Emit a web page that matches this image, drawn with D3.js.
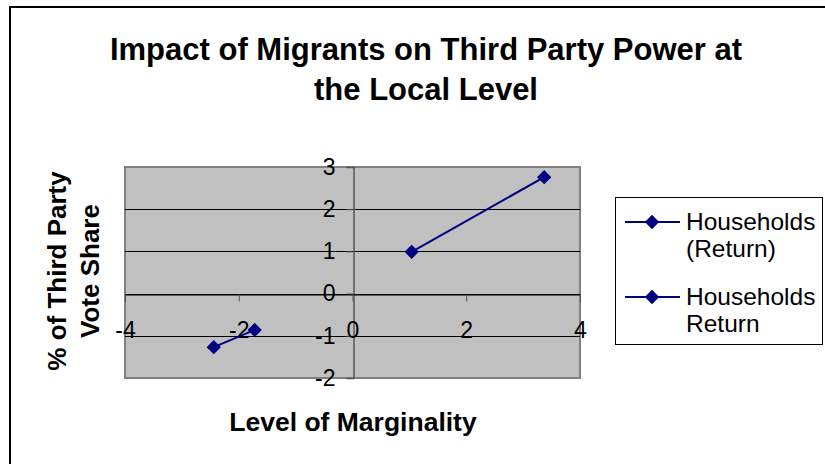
<!DOCTYPE html>
<html>
<head>
<meta charset="utf-8">
<script src="https://cdn.jsdelivr.net/npm/d3@7"></script>
<style>
  body { margin: 0; background: #fff; }
  svg { display: block; font-family: "Liberation Sans", Arial, sans-serif; }
</style>
</head>
<body>
<div id="chart"></div>
<script>
// data
let seriesNames = ["Households (Return)", "Households Return"];
let seriesA = [{x: -2.44, y: -1.27}, {x: -1.72, y: -0.86}];
let seriesB = [{x: 1.04, y: 0.99}, {x: 3.37, y: 2.76}];
let xTicks = [-4, -2, 0, 2, 4];
let yTicks = [-2, -1, 0, 1, 2, 3];
let titleLines = ["Impact of Migrants on Third Party Power at", "the Local Level"];
let yTitleLines = ["% of Third Party", "Vote Share"];
let xTitle = "Level of Marginality";

let width = 825, height = 464;
let plot = {left: 125, right: 580, top: 167, bottom: 378};
let navy = "#000080";

const svg = d3.select("#chart").append("svg")
    .attr("width", width)
    .attr("height", height);

// outer chart border
svg.append("rect")
    .attr("x", 10).attr("y", 7)
    .attr("width", 830).attr("height", 470)
    .attr("fill", "#fff")
    .attr("stroke", "#000")
    .attr("stroke-width", 2);

let x = d3.scaleLinear().domain([-4, 4]).range([plot.left, plot.right]);
let y = d3.scaleLinear().domain([-2, 3]).range([plot.bottom, plot.top]);

// plot area
svg.append("rect")
    .attr("x", plot.left).attr("y", plot.top)
    .attr("width", plot.right - plot.left)
    .attr("height", plot.bottom - plot.top)
    .attr("fill", "#c0c0c0")
    .attr("stroke", "#808080")
    .attr("stroke-width", 2);

// horizontal gridlines
svg.append("g")
  .selectAll("line")
  .data(yTicks.filter(d => d > -2 && d < 3))
  .join("line")
    .attr("x1", plot.left).attr("x2", plot.right)
    .attr("y1", d => Math.round(y(d)) + 0.5)
    .attr("y2", d => Math.round(y(d)) + 0.5)
    .attr("stroke", "#000")
    .attr("stroke-width", 1);

// y axis crossing at x = 0
const yAxis = svg.append("g")
    .attr("transform", `translate(${Math.round(x(0)) + 0.5},0)`)
    .call(d3.axisLeft(y).tickValues(yTicks).tickFormat(d => String(d))
      .tickSize(7).tickPadding(11));
yAxis.select(".domain").attr("stroke", "#555").attr("stroke-width", 1.5);
yAxis.selectAll(".tick line").attr("stroke", "#555");
yAxis.selectAll("text")
    .attr("font-size", 23)
    .attr("font-family", "Liberation Sans, Arial, sans-serif")
    .attr("fill", "#000");

// x axis crossing at y = 0
const xAxis = svg.append("g")
    .attr("transform", `translate(0,${Math.round(y(0)) + 0.5})`)
    .call(d3.axisBottom(x).tickValues(xTicks).tickFormat(d => String(d))
      .tickSize(7).tickPadding(20));
xAxis.select(".domain").attr("stroke", "#000");
xAxis.selectAll(".tick line").attr("stroke", "#555");
xAxis.selectAll("text")
    .attr("font-size", 23)
    .attr("font-family", "Liberation Sans, Arial, sans-serif")
    .attr("fill", "#000");

// series
let line = d3.line().x(d => x(d.x)).y(d => y(d.y));
let diamond = d3.symbol().type(d3.symbolDiamond2).size(130);

[seriesA, seriesB].forEach(s => {
  svg.append("path")
      .datum(s)
      .attr("d", line)
      .attr("fill", "none")
      .attr("stroke", navy)
      .attr("stroke-width", 2);
  svg.append("g")
    .selectAll("path")
    .data(s)
    .join("path")
      .attr("transform", d => `translate(${x(d.x)},${y(d.y)})`)
      .attr("d", diamond)
      .attr("fill", navy);
});

// title
svg.append("text")
    .attr("x", 426).attr("y", 60)
    .attr("text-anchor", "middle")
    .attr("font-size", 31)
    .attr("font-weight", "bold")
  .selectAll("tspan")
  .data(titleLines)
  .join("tspan")
    .attr("x", 426)
    .attr("dy", (d, i) => i ? 40 : 0)
    .text(d => d);

// x axis title
svg.append("text")
    .attr("x", 353).attr("y", 431)
    .attr("text-anchor", "middle")
    .attr("font-size", 26.5)
    .attr("font-weight", "bold")
    .text(xTitle);

// y axis title
svg.append("text")
    .attr("transform", "translate(66,271) rotate(-90)")
    .attr("text-anchor", "middle")
    .attr("font-size", 26)
    .attr("font-weight", "bold")
  .selectAll("tspan")
  .data(yTitleLines)
  .join("tspan")
    .attr("x", 0)
    .attr("dy", (d, i) => i ? 33 : 0)
    .text(d => d);

// legend
const legend = svg.append("g");
legend.append("rect")
    .attr("x", 615.5).attr("y", 197.5)
    .attr("width", 207).attr("height", 147)
    .attr("fill", "#fff")
    .attr("stroke", "#000")
    .attr("stroke-width", 1);

let legendRows = [
  {lines: ["Households", "(Return)"], y: 222},
  {lines: ["Households", "Return"], y: 297}
];
legendRows.forEach((r, i) => {
  let g = legend.append("g").attr("transform", `translate(0,${r.y})`);
  g.append("line")
      .attr("x1", 625).attr("x2", 680)
      .attr("stroke", navy).attr("stroke-width", 2);
  g.append("path")
      .attr("transform", "translate(652,0)")
      .attr("d", diamond)
      .attr("fill", navy);
  g.append("text")
      .attr("x", 686).attr("y", 8)
      .attr("font-size", 24.5)
    .selectAll("tspan")
    .data(r.lines)
    .join("tspan")
      .attr("x", 686)
      .attr("dy", (d, j) => j ? 27 : 0)
      .text(d => d);
});
</script>
</body>
</html>
